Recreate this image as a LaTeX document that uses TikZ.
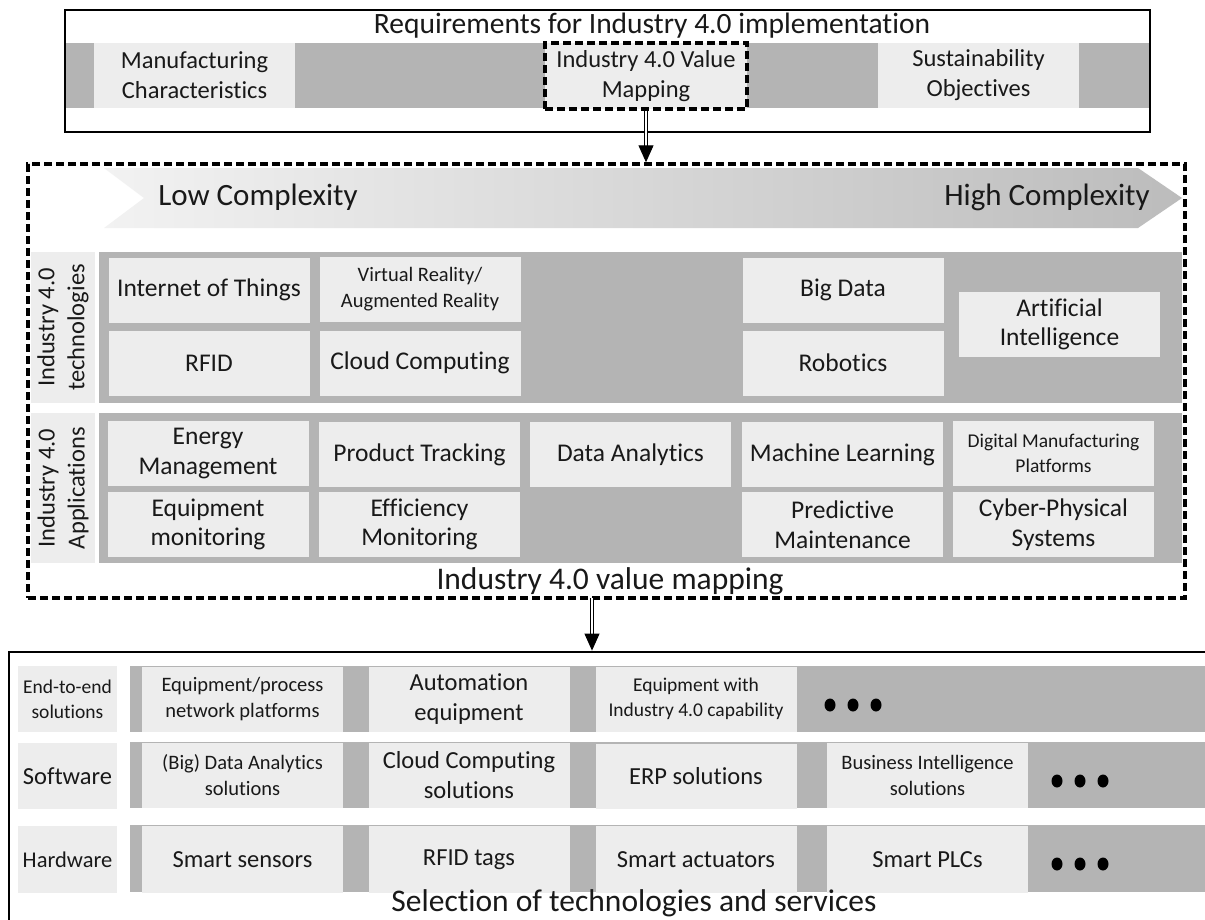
\documentclass[tikz,border=0pt]{standalone}
\usepackage{fontspec}
\setmainfont{Carlito}[Ligatures=NoCommon]
\usetikzlibrary{arrows.meta}

\newlength{\du}
\setlength{\du}{1pt}

\definecolor{bandgray}{RGB}{180,180,180}
\definecolor{cellgray}{RGB}{237,237,237}
\definecolor{chevlight}{RGB}{242,242,242}
\definecolor{chevdark}{RGB}{188,188,188}
\definecolor{inkcolor}{RGB}{25,25,25}

\begin{document}
\begin{tikzpicture}[
  band/.style={fill=bandgray},
  cell/.style={fill=cellgray, text=inkcolor, inner sep=0pt, align=center,
    minimum width=201\du, minimum height=65\du},
  dashbox/.style={draw=black, line width=3.4\du, dash pattern=on 8\du off 4\du},
  solidbox/.style={draw=black, line width=2.8\du},
  hollowarrow/.style={draw=black, line width=1\du, double=white,
    double distance=2.4\du, -{Triangle[width=15pt,length=17pt]}},
  fcap/.style={text=inkcolor, font=\fontsize{31.5}{36}\selectfont},
  ftitle/.style={text=inkcolor, font=\fontsize{29.5}{34}\selectfont},
  fchev/.style={text=inkcolor, font=\fontsize{31}{36}\selectfont},
  fcell/.style={font=\fontsize{25.5}{29.5}\selectfont},
  fmid/.style={font=\fontsize{24.5}{30}\selectfont},
  fsmall/.style={font=\fontsize{20.5}{26}\selectfont},
  ftiny/.style={font=\fontsize{19.5}{25}\selectfont}
]
\pgftransformyscale{-1.000000}
\clip (0\du,0\du) rectangle (1205\du,919\du);
\fill[white] (0\du,0\du) rectangle (1205\du,919\du);

% requirements
\node[solidbox, minimum width=1085\du, minimum height=122\du, inner sep=0pt] (req) at (607.5\du,71\du) {};
\fill[band] (66\du,43\du) rectangle (1149\du,108\du);
\node[ftitle] (reqtitle) at (652\du,26\du) {Requirements for Industry 4.0 implementation};
\node[cell, fmid] (manuf) at (194.5\du,75.5\du) {Manufacturing\\Characteristics};
\node[cell, fmid, dashbox, minimum width=202\du, minimum height=66\du] (valmap) at (646\du,76\du) {Industry 4.0 Value\\Mapping};
\node[cell, fmid] (sustain) at (978.5\du,75.5\du) {Sustainability\\Objectives};

% complexity arrow
\shade[left color=chevlight, right color=chevdark] (104\du,168\du) -- (1138\du,168\du) -- (1182\du,198\du)
  -- (1138\du,228\du) -- (104\du,228\du) -- (144\du,198\du) -- cycle;
\node[fchev] (lowcx) at (258\du,197\du) {Low Complexity};
\node[fchev] (highcx) at (1047\du,197\du) {High Complexity};

% technologies
\fill[band] (99\du,252\du) rectangle (1182\du,403\du);
\node[cell, fmid, rotate=90, minimum width=151\du, minimum height=64\du] (techlbl) at (63\du,327.5\du) {Industry 4.0\\technologies};
\node[cell, fcell] (iot) at (209\du,290\du) {Internet of Things};
\node[cell, fsmall] (vrar) at (420\du,289\du) {Virtual Reality/\\Augmented Reality};
\node[cell, fcell] (bigdata) at (843\du,290\du) {Big Data};
\node[cell, fcell] (rfid) at (209\du,363\du) {RFID};
\node[cell, fcell] (cloud) at (420\du,363\du) {Cloud Computing};
\node[cell, fcell] (robotics) at (843\du,363\du) {Robotics};
\node[cell, fcell] (ai) at (1059.5\du,324.5\du) {Artificial\\Intelligence};

% applications
\fill[band] (99\du,413\du) rectangle (1182\du,563\du);
\node[cell, fmid, rotate=90, minimum width=150\du, minimum height=64\du] (applbl) at (63\du,488\du) {Industry 4.0\\Applications};
\node[cell, fcell] (energy) at (208\du,453.5\du) {Energy\\Management};
\node[cell, fcell] (tracking) at (419.5\du,454.5\du) {Product Tracking};
\node[cell, fcell] (analytics) at (630.5\du,454.5\du) {Data Analytics};
\node[cell, fcell] (mlearn) at (842.5\du,454.5\du) {Machine Learning};
\node[cell, ftiny] (dmp) at (1053.5\du,453.5\du) {Digital Manufacturing\\Platforms};
\node[cell, fcell] (equipmon) at (208\du,524.5\du) {Equipment\\monitoring};
\node[cell, fcell] (effmon) at (419.5\du,524.5\du) {Efficiency\\Monitoring};
\node[cell, fcell] (predmaint) at (842.5\du,524.5\du) {Predictive\\Maintenance};
\node[cell, fcell] (cps) at (1053.5\du,524.5\du) {Cyber-Physical\\Systems};
\node[fcap] (mapcaption) at (610\du,581\du) {Industry 4.0 value mapping};
\node[dashbox, minimum width=1157\du, minimum height=434\du, inner sep=0pt] (mapping) at (606.5\du,381\du) {};

% selection
\node[solidbox, minimum width=1215\du, minimum height=290\du, inner sep=0pt] (select) at (616.5\du,797\du) {};
\fill[band] (130\du,666\du) rectangle (1215\du,732\du);
\fill[band] (130\du,742\du) rectangle (1215\du,808\du);
\fill[band] (130\du,825\du) rectangle (1215\du,892\du);

\node[cell, ftiny, minimum width=99\du, minimum height=66\du] (e2elbl) at (67.5\du,699\du) {End-to-end\\solutions};
\node[cell, fsmall] (netplat) at (242.5\du,699\du) {Equipment/process\\network platforms};
\node[cell, fmid] (autoeq) at (469\du,699\du) {Automation\\equipment};
\node[cell, ftiny] (capeq) at (696\du,699\du) {Equipment with\\Industry 4.0 capability};

\node[cell, fmid, minimum width=99\du, minimum height=66\du] (swlbl) at (67.5\du,776\du) {Software};
\node[cell, fsmall] (dasol) at (242.5\du,775\du) {(Big) Data Analytics\\solutions};
\node[cell, fmid] (ccsol) at (469\du,775\du) {Cloud Computing\\solutions};
\node[cell, fmid] (erpsol) at (696\du,776\du) {ERP solutions};
\node[cell, fsmall] (bisol) at (927.5\du,775\du) {Business Intelligence\\solutions};

\node[cell, fsmall, font=\fontsize{22.5}{27}\selectfont, minimum width=99\du, minimum height=67\du] (hwlbl) at (67.5\du,859.5\du) {Hardware};
\node[cell, fmid, minimum height=67\du] (sensors) at (242.5\du,859.5\du) {Smart sensors};
\node[cell, fmid, minimum height=67\du] (rfidtags) at (469\du,859.5\du) {RFID tags};
\node[cell, fmid, minimum height=67\du] (actuators) at (696\du,859.5\du) {Smart actuators};
\node[cell, fmid, minimum height=67\du] (plcs) at (927.5\du,859.5\du) {Smart PLCs};

\foreach \cx/\cy in {853/705, 1080/781, 1080/864}
  \foreach \dx in {-23,0,23}
    \fill[black] ({(\cx+\dx)*\du},{\cy*\du}) ellipse [x radius=5.5\du, y radius=6.5\du];

\node[fcap] (selcaption) at (634\du,903\du) {Selection of technologies and services};

% flow
\draw[hollowarrow] (valmap.south) -- (valmap.south |- mapping.north);
\coordinate (mapout) at (592\du,598\du);
\draw[hollowarrow] (mapout) -- (mapout |- select.north);
\end{tikzpicture}
\end{document}
